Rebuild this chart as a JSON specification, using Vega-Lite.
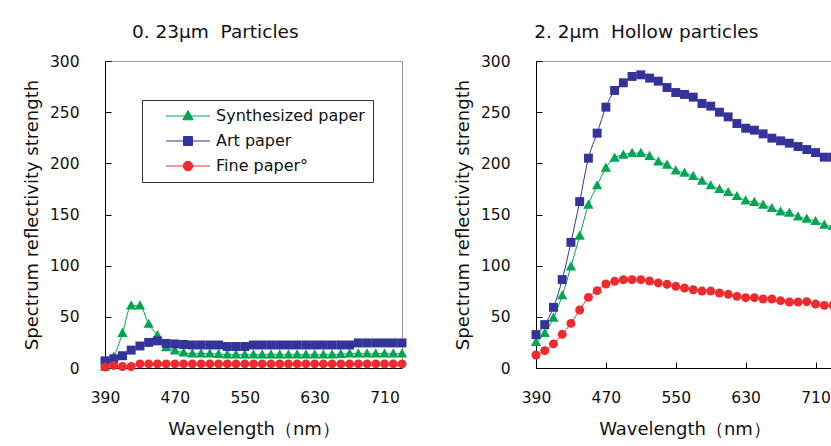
{
  "$schema": "https://vega.github.io/schema/vega-lite/v6.json",
  "background": "white",
  "padding": {"left": 22, "top": 22, "right": 2, "bottom": 2},
  "autosize": {"type": "pad"},
  "spacing": 45,
  "datasets": {
    "left": [
      {"wl": 390, "series": "Synthesized paper", "v": 1},
      {"wl": 400, "series": "Synthesized paper", "v": 11},
      {"wl": 410, "series": "Synthesized paper", "v": 34},
      {"wl": 420, "series": "Synthesized paper", "v": 61},
      {"wl": 430, "series": "Synthesized paper", "v": 61},
      {"wl": 440, "series": "Synthesized paper", "v": 43},
      {"wl": 450, "series": "Synthesized paper", "v": 32},
      {"wl": 460, "series": "Synthesized paper", "v": 20},
      {"wl": 470, "series": "Synthesized paper", "v": 17},
      {"wl": 480, "series": "Synthesized paper", "v": 15},
      {"wl": 490, "series": "Synthesized paper", "v": 14},
      {"wl": 500, "series": "Synthesized paper", "v": 14},
      {"wl": 510, "series": "Synthesized paper", "v": 14},
      {"wl": 520, "series": "Synthesized paper", "v": 13.5},
      {"wl": 530, "series": "Synthesized paper", "v": 13},
      {"wl": 540, "series": "Synthesized paper", "v": 13},
      {"wl": 550, "series": "Synthesized paper", "v": 13},
      {"wl": 560, "series": "Synthesized paper", "v": 13},
      {"wl": 570, "series": "Synthesized paper", "v": 13},
      {"wl": 580, "series": "Synthesized paper", "v": 13},
      {"wl": 590, "series": "Synthesized paper", "v": 13},
      {"wl": 600, "series": "Synthesized paper", "v": 13},
      {"wl": 610, "series": "Synthesized paper", "v": 13},
      {"wl": 620, "series": "Synthesized paper", "v": 13},
      {"wl": 630, "series": "Synthesized paper", "v": 13},
      {"wl": 640, "series": "Synthesized paper", "v": 13},
      {"wl": 650, "series": "Synthesized paper", "v": 13},
      {"wl": 660, "series": "Synthesized paper", "v": 13.5},
      {"wl": 670, "series": "Synthesized paper", "v": 14},
      {"wl": 680, "series": "Synthesized paper", "v": 14},
      {"wl": 690, "series": "Synthesized paper", "v": 14},
      {"wl": 700, "series": "Synthesized paper", "v": 14},
      {"wl": 710, "series": "Synthesized paper", "v": 14},
      {"wl": 720, "series": "Synthesized paper", "v": 14},
      {"wl": 730, "series": "Synthesized paper", "v": 14},
      {"wl": 390, "series": "Art paper", "v": 7},
      {"wl": 400, "series": "Art paper", "v": 9},
      {"wl": 410, "series": "Art paper", "v": 12},
      {"wl": 420, "series": "Art paper", "v": 17.5},
      {"wl": 430, "series": "Art paper", "v": 21.5},
      {"wl": 440, "series": "Art paper", "v": 25},
      {"wl": 450, "series": "Art paper", "v": 26.5},
      {"wl": 460, "series": "Art paper", "v": 24},
      {"wl": 470, "series": "Art paper", "v": 23.5},
      {"wl": 480, "series": "Art paper", "v": 23},
      {"wl": 490, "series": "Art paper", "v": 22.5},
      {"wl": 500, "series": "Art paper", "v": 22.5},
      {"wl": 510, "series": "Art paper", "v": 22.5},
      {"wl": 520, "series": "Art paper", "v": 22.5},
      {"wl": 530, "series": "Art paper", "v": 21},
      {"wl": 540, "series": "Art paper", "v": 21},
      {"wl": 550, "series": "Art paper", "v": 21},
      {"wl": 560, "series": "Art paper", "v": 22.5},
      {"wl": 570, "series": "Art paper", "v": 22.5},
      {"wl": 580, "series": "Art paper", "v": 22.5},
      {"wl": 590, "series": "Art paper", "v": 22.5},
      {"wl": 600, "series": "Art paper", "v": 22.5},
      {"wl": 610, "series": "Art paper", "v": 22.5},
      {"wl": 620, "series": "Art paper", "v": 22.5},
      {"wl": 630, "series": "Art paper", "v": 22.5},
      {"wl": 640, "series": "Art paper", "v": 22.5},
      {"wl": 650, "series": "Art paper", "v": 22.5},
      {"wl": 660, "series": "Art paper", "v": 22.5},
      {"wl": 670, "series": "Art paper", "v": 22.5},
      {"wl": 680, "series": "Art paper", "v": 24.5},
      {"wl": 690, "series": "Art paper", "v": 24.5},
      {"wl": 700, "series": "Art paper", "v": 24.5},
      {"wl": 710, "series": "Art paper", "v": 24.5},
      {"wl": 720, "series": "Art paper", "v": 24.5},
      {"wl": 730, "series": "Art paper", "v": 24.5},
      {"wl": 390, "series": "Fine paper°", "v": 1},
      {"wl": 400, "series": "Fine paper°", "v": 2.5},
      {"wl": 410, "series": "Fine paper°", "v": 1.5},
      {"wl": 420, "series": "Fine paper°", "v": 1.5},
      {"wl": 430, "series": "Fine paper°", "v": 4},
      {"wl": 440, "series": "Fine paper°", "v": 4},
      {"wl": 450, "series": "Fine paper°", "v": 4},
      {"wl": 460, "series": "Fine paper°", "v": 4},
      {"wl": 470, "series": "Fine paper°", "v": 4},
      {"wl": 480, "series": "Fine paper°", "v": 4},
      {"wl": 490, "series": "Fine paper°", "v": 4},
      {"wl": 500, "series": "Fine paper°", "v": 4},
      {"wl": 510, "series": "Fine paper°", "v": 4},
      {"wl": 520, "series": "Fine paper°", "v": 4},
      {"wl": 530, "series": "Fine paper°", "v": 4},
      {"wl": 540, "series": "Fine paper°", "v": 4},
      {"wl": 550, "series": "Fine paper°", "v": 4},
      {"wl": 560, "series": "Fine paper°", "v": 4},
      {"wl": 570, "series": "Fine paper°", "v": 4},
      {"wl": 580, "series": "Fine paper°", "v": 4},
      {"wl": 590, "series": "Fine paper°", "v": 4},
      {"wl": 600, "series": "Fine paper°", "v": 4},
      {"wl": 610, "series": "Fine paper°", "v": 4},
      {"wl": 620, "series": "Fine paper°", "v": 4},
      {"wl": 630, "series": "Fine paper°", "v": 4},
      {"wl": 640, "series": "Fine paper°", "v": 4},
      {"wl": 650, "series": "Fine paper°", "v": 4},
      {"wl": 660, "series": "Fine paper°", "v": 4},
      {"wl": 670, "series": "Fine paper°", "v": 4},
      {"wl": 680, "series": "Fine paper°", "v": 4},
      {"wl": 690, "series": "Fine paper°", "v": 4},
      {"wl": 700, "series": "Fine paper°", "v": 4},
      {"wl": 710, "series": "Fine paper°", "v": 4},
      {"wl": 720, "series": "Fine paper°", "v": 4},
      {"wl": 730, "series": "Fine paper°", "v": 4}
    ],
    "right": [
      {"wl": 390, "series": "Synthesized paper", "v": 25.1},
      {"wl": 400, "series": "Synthesized paper", "v": 33.9},
      {"wl": 410, "series": "Synthesized paper", "v": 48.9},
      {"wl": 420, "series": "Synthesized paper", "v": 70.8},
      {"wl": 430, "series": "Synthesized paper", "v": 99.1},
      {"wl": 440, "series": "Synthesized paper", "v": 129},
      {"wl": 450, "series": "Synthesized paper", "v": 159.4},
      {"wl": 460, "series": "Synthesized paper", "v": 178.3},
      {"wl": 470, "series": "Synthesized paper", "v": 195.5},
      {"wl": 480, "series": "Synthesized paper", "v": 205.3},
      {"wl": 490, "series": "Synthesized paper", "v": 208.3},
      {"wl": 500, "series": "Synthesized paper", "v": 209.9},
      {"wl": 510, "series": "Synthesized paper", "v": 209.9},
      {"wl": 520, "series": "Synthesized paper", "v": 207},
      {"wl": 530, "series": "Synthesized paper", "v": 201.7},
      {"wl": 540, "series": "Synthesized paper", "v": 198.5},
      {"wl": 550, "series": "Synthesized paper", "v": 192.9},
      {"wl": 560, "series": "Synthesized paper", "v": 190.7},
      {"wl": 570, "series": "Synthesized paper", "v": 187.4},
      {"wl": 580, "series": "Synthesized paper", "v": 182.8},
      {"wl": 590, "series": "Synthesized paper", "v": 178.3},
      {"wl": 600, "series": "Synthesized paper", "v": 174.7},
      {"wl": 610, "series": "Synthesized paper", "v": 171.7},
      {"wl": 620, "series": "Synthesized paper", "v": 167.8},
      {"wl": 630, "series": "Synthesized paper", "v": 163.6},
      {"wl": 640, "series": "Synthesized paper", "v": 162},
      {"wl": 650, "series": "Synthesized paper", "v": 159.4},
      {"wl": 660, "series": "Synthesized paper", "v": 156.1},
      {"wl": 670, "series": "Synthesized paper", "v": 152.8},
      {"wl": 680, "series": "Synthesized paper", "v": 151.5},
      {"wl": 690, "series": "Synthesized paper", "v": 147.9},
      {"wl": 700, "series": "Synthesized paper", "v": 145.7},
      {"wl": 710, "series": "Synthesized paper", "v": 143.4},
      {"wl": 720, "series": "Synthesized paper", "v": 139.8},
      {"wl": 730, "series": "Synthesized paper", "v": 138.5},
      {"wl": 390, "series": "Art paper", "v": 32.6},
      {"wl": 400, "series": "Art paper", "v": 42.4},
      {"wl": 410, "series": "Art paper", "v": 59.3},
      {"wl": 420, "series": "Art paper", "v": 86.4},
      {"wl": 430, "series": "Art paper", "v": 122.8},
      {"wl": 440, "series": "Art paper", "v": 162.6},
      {"wl": 450, "series": "Art paper", "v": 205},
      {"wl": 460, "series": "Art paper", "v": 229.5},
      {"wl": 470, "series": "Art paper", "v": 254.9},
      {"wl": 480, "series": "Art paper", "v": 271.2},
      {"wl": 490, "series": "Art paper", "v": 278.7},
      {"wl": 500, "series": "Art paper", "v": 284.9},
      {"wl": 510, "series": "Art paper", "v": 286.5},
      {"wl": 520, "series": "Art paper", "v": 283.3},
      {"wl": 530, "series": "Art paper", "v": 280.3},
      {"wl": 540, "series": "Art paper", "v": 274.1},
      {"wl": 550, "series": "Art paper", "v": 269.2},
      {"wl": 560, "series": "Art paper", "v": 267.3},
      {"wl": 570, "series": "Art paper", "v": 264.7},
      {"wl": 580, "series": "Art paper", "v": 258.5},
      {"wl": 590, "series": "Art paper", "v": 255.9},
      {"wl": 600, "series": "Art paper", "v": 250},
      {"wl": 610, "series": "Art paper", "v": 245.4},
      {"wl": 620, "series": "Art paper", "v": 238.9},
      {"wl": 630, "series": "Art paper", "v": 234.3},
      {"wl": 640, "series": "Art paper", "v": 232.4},
      {"wl": 650, "series": "Art paper", "v": 228.8},
      {"wl": 660, "series": "Art paper", "v": 224.6},
      {"wl": 670, "series": "Art paper", "v": 222},
      {"wl": 680, "series": "Art paper", "v": 219.7},
      {"wl": 690, "series": "Art paper", "v": 216.4},
      {"wl": 700, "series": "Art paper", "v": 213.5},
      {"wl": 710, "series": "Art paper", "v": 210.5},
      {"wl": 720, "series": "Art paper", "v": 206},
      {"wl": 730, "series": "Art paper", "v": 206},
      {"wl": 390, "series": "Fine paper°", "v": 12.7},
      {"wl": 400, "series": "Fine paper°", "v": 16.9},
      {"wl": 410, "series": "Fine paper°", "v": 23.5},
      {"wl": 420, "series": "Fine paper°", "v": 32.9},
      {"wl": 430, "series": "Fine paper°", "v": 43.6},
      {"wl": 440, "series": "Fine paper°", "v": 56.7},
      {"wl": 450, "series": "Fine paper°", "v": 69},
      {"wl": 460, "series": "Fine paper°", "v": 75.6},
      {"wl": 470, "series": "Fine paper°", "v": 82.1},
      {"wl": 480, "series": "Fine paper°", "v": 84.7},
      {"wl": 490, "series": "Fine paper°", "v": 86.3},
      {"wl": 500, "series": "Fine paper°", "v": 86.3},
      {"wl": 510, "series": "Fine paper°", "v": 86.3},
      {"wl": 520, "series": "Fine paper°", "v": 85},
      {"wl": 530, "series": "Fine paper°", "v": 83.1},
      {"wl": 540, "series": "Fine paper°", "v": 81.8},
      {"wl": 550, "series": "Fine paper°", "v": 79.8},
      {"wl": 560, "series": "Fine paper°", "v": 78.2},
      {"wl": 570, "series": "Fine paper°", "v": 76.5},
      {"wl": 580, "series": "Fine paper°", "v": 75.2},
      {"wl": 590, "series": "Fine paper°", "v": 75.2},
      {"wl": 600, "series": "Fine paper°", "v": 73.3},
      {"wl": 610, "series": "Fine paper°", "v": 72},
      {"wl": 620, "series": "Fine paper°", "v": 70},
      {"wl": 630, "series": "Fine paper°", "v": 68.7},
      {"wl": 640, "series": "Fine paper°", "v": 68.7},
      {"wl": 650, "series": "Fine paper°", "v": 67.4},
      {"wl": 660, "series": "Fine paper°", "v": 67.4},
      {"wl": 670, "series": "Fine paper°", "v": 65.8},
      {"wl": 680, "series": "Fine paper°", "v": 64.5},
      {"wl": 690, "series": "Fine paper°", "v": 64.5},
      {"wl": 700, "series": "Fine paper°", "v": 64.8},
      {"wl": 710, "series": "Fine paper°", "v": 62.5},
      {"wl": 720, "series": "Fine paper°", "v": 61.2},
      {"wl": 730, "series": "Fine paper°", "v": 61.2}
    ]
  },
  "hconcat": [
    {
      "width": 297,
      "height": 307,
      "title": {"text": "0. 23μm\u00a0\u00a0Particles"},
      "data": {"name": "left"},
      "encoding": {
        "x": {"field": "wl", "type": "quantitative", "scale": {"domain": [390, 730], "nice": false, "zero": false}, "axis": {"values": [390, 470, 550, 630, 710], "title": "Wavelength（nm）"}},
        "y": {"field": "v", "type": "quantitative", "scale": {"domain": [0, 300], "nice": false}, "axis": {"values": [0, 50, 100, 150, 200, 250, 300], "title": "Spectrum reflectivity strength"}},
        "color": {"field": "series", "type": "nominal", "scale": {"domain": ["Synthesized paper", "Art paper", "Fine paper°"], "range": ["#00a651", "#333399", "#ee2a2e"]},
          "legend": {
            "orient": "none", "legendX": 37, "legendY": 39, "direction": "vertical", "title": null,
            "strokeColor": "#333", "fillColor": "white", "padding": 8,
            "labelFontSize": 16, "labelColor": "#111", "symbolSize": 100, "symbolOffset": 30, "labelOffset": 20, "rowPadding": 9,
            "symbolStrokeWidth": 1, "symbolOpacity": 1
          }}
      },
      "layer": [
        {"mark": {"type": "line", "interpolate": "monotone", "strokeWidth": 1}},
        {"transform": [{"filter": "datum.series === 'Synthesized paper'"}], "mark": {"type": "point", "filled": true, "size": 80, "opacity": 1, "shape": "M0,-1.2L1.15,0.85H-1.15Z"}},
        {"transform": [{"filter": "datum.series === 'Art paper'"}], "mark": {"type": "point", "filled": true, "size": 80, "opacity": 1, "shape": "square"}},
        {"transform": [{"filter": "datum.series === 'Fine paper°'"}], "mark": {"type": "point", "filled": true, "size": 80, "opacity": 1, "shape": "circle"}},
        {
          "transform": [{"filter": "datum.wl < 0"}],
          "mark": {"type": "point", "filled": true, "size": 100, "opacity": 1},
          "encoding": {
            "shape": {"field": "series", "type": "nominal", "scale": {"domain": ["Synthesized paper", "Art paper", "Fine paper°"], "range": ["M-4.4,0H4.4M0,-1.1L1.05,0.75H-1.05Z", "M-4.4,0H4.4M-0.9,-0.9H0.9V0.9H-0.9Z", "M-4.4,0H4.4M0.95,0A0.95,0.95,0,1,1,-0.95,0A0.95,0.95,0,1,1,0.95,0Z"]},
              "legend": {
                "orient": "none", "legendX": 37, "legendY": 39, "direction": "vertical", "title": null,
                "strokeColor": "#333", "fillColor": "white", "padding": 8,
                "labelFontSize": 16, "labelColor": "#111", "symbolSize": 100, "symbolOffset": 30, "labelOffset": 20, "rowPadding": 9,
                "symbolStrokeWidth": 1, "symbolOpacity": 1
              }}
          }
        }
      ]
    },
    {
      "width": 297,
      "height": 307,
      "title": {"text": "2. 2μm\u00a0\u00a0Hollow particles"},
      "data": {"name": "right"},
      "encoding": {
        "x": {"field": "wl", "type": "quantitative", "scale": {"domain": [390, 730], "nice": false, "zero": false}, "axis": {"values": [390, 470, 550, 630, 710], "title": "Wavelength（nm）"}},
        "y": {"field": "v", "type": "quantitative", "scale": {"domain": [0, 300], "nice": false}, "axis": {"values": [0, 50, 100, 150, 200, 250, 300], "title": "Spectrum reflectivity strength"}},
        "color": {"field": "series", "type": "nominal", "scale": {"domain": ["Synthesized paper", "Art paper", "Fine paper°"], "range": ["#00a651", "#333399", "#ee2a2e"]}, "legend": null}
      },
      "layer": [
        {"mark": {"type": "line", "interpolate": "monotone", "strokeWidth": 1}},
        {
          "mark": {"type": "point", "filled": true, "size": 80, "opacity": 1},
          "encoding": {
            "shape": {"field": "series", "type": "nominal", "scale": {"domain": ["Synthesized paper", "Art paper", "Fine paper°"], "range": ["M0,-1.2L1.15,0.85H-1.15Z", "square", "circle"]}, "legend": null}
          }
        }
      ]
    }
  ],
  "resolve": {
    "scale": {"color": "independent", "shape": "independent"},
    "legend": {"color": "independent", "shape": "independent"}
  },
  "config": {
    "font": "DejaVu Sans",
    "view": {"stroke": "#999999", "strokeWidth": 1},
    "title": {"fontSize": 18.5, "fontWeight": "normal", "color": "#111", "frame": "bounds", "anchor": "middle", "offset": 13},
    "axis": {
      "grid": false,
      "domainColor": "#000",
      "domainWidth": 1,
      "tickColor": "#000",
      "tickSize": -6,
      "labelFontSize": 15.5,
      "labelColor": "#111",
      "labelFlush": false,
      "titleFontSize": 18,
      "titleFontWeight": "normal",
      "titleColor": "#111"
    },
    "axisX": {"labelPadding": 28, "titlePadding": 15},
    "axisY": {"labelPadding": 32, "titlePadding": 8}
  }
}
